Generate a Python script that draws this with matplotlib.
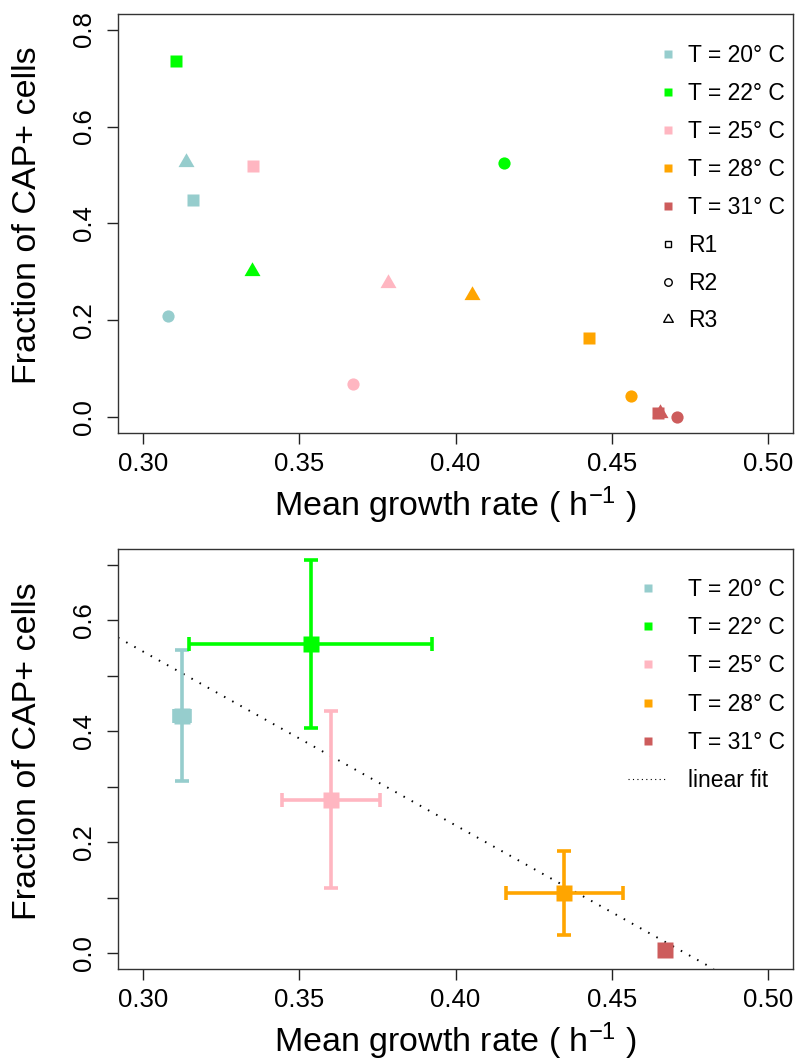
import numpy as np
import matplotlib
matplotlib.use("Agg")
import matplotlib.pyplot as plt
from matplotlib.lines import Line2D

plt.rcParams['font.family'] = ['Liberation Sans', 'DejaVu Sans']
plt.rcParams['mathtext.fontset'] = 'custom'
plt.rcParams['mathtext.rm'] = 'Liberation Sans'
plt.rcParams['mathtext.it'] = 'Liberation Sans:italic'

# Temperatures and their colours
temp_labels = ['T = 20° C', 'T = 22° C', 'T = 25° C', 'T = 28° C', 'T = 31° C']
temp_colors = ['#96CDCD', '#00FF00', '#FFB6C1', '#FFA500', '#CD5C5C']

# Replicate measurements (growth rate in 1/h, fraction of CAP+ cells)
r1_rate = [0.3159, 0.3105, 0.3351, 0.4428, 0.4649]
r1_frac = [0.449, 0.735, 0.519, 0.163, 0.009]
r2_rate = [0.3081, 0.4156, 0.3671, 0.4561, 0.4708]
r2_frac = [0.210, 0.524, 0.070, 0.044, 0.001]
r3_rate = [0.3137, 0.3349, 0.3785, 0.4052, 0.4655]
r3_frac = [0.526, 0.302, 0.278, 0.252, 0.009]

# Means across replicates with error bars
mean_rate = [0.3125, 0.3536, 0.3602, 0.4348, 0.4671]
rate_err = [0.0025, 0.0390, 0.0158, 0.0188, 0.0015]
mean_frac = [0.428, 0.557, 0.277, 0.109, 0.0067]
frac_err = [0.118, 0.152, 0.159, 0.075, 0.004]

x_ticks = [0.30, 0.35, 0.40, 0.45, 0.50]
top_y_ticks = [0.0, 0.2, 0.4, 0.6, 0.8]
bottom_y_ticks = [0.0, 0.1, 0.2, 0.3, 0.4, 0.5, 0.6, 0.7]

W, H = 797, 1061
fig = plt.figure(figsize=(W / 100, H / 100), dpi=100)

def px_axes(left, top, right, bottom):
    return fig.add_axes([left / W, 1 - bottom / H, (right - left) / W, (bottom - top) / H])

ax1 = px_axes(118, 14, 793, 433)
ax2 = px_axes(118, 549, 793, 969)

# equilateral triangle marker centred on its centroid
tri = [(0, 1), (-0.866, -0.5), (0.866, -0.5), (0, 1)]

TICK_FS = 18.5
LAB_FS = 24.5
LEG_FS = 16.5


def style_axes(ax, ylim, yticks, ylabels):
    ax.set_xlim(0.3 - 0.008, 0.5 + 0.008)
    ax.set_ylim(*ylim)
    ax.set_xticks(x_ticks)
    ax.set_xticklabels([f'{v:.2f}' for v in x_ticks], fontsize=TICK_FS)
    ax.set_yticks(yticks)
    ax.set_yticklabels(ylabels, fontsize=TICK_FS, rotation=90, va='center')
    ax.tick_params(direction='out', length=8, width=1, colors='#222222',
                   labelcolor='black')
    ax.tick_params(axis='x', pad=6)
    ax.tick_params(axis='y', pad=8)
    for s in ax.spines.values():
        s.set_color('#333333')
        s.set_linewidth(1.0)


# ---- top panel: individual replicates ----
for i, c in enumerate(temp_colors):
    ax1.plot(r1_rate[i], r1_frac[i], marker='s', ms=8.6, color=c, ls='none', mec='none')
    ax1.plot(r2_rate[i], r2_frac[i], marker='o', ms=8.8, color=c, ls='none', mec='none')
    ax1.plot(r3_rate[i], r3_frac[i], marker=tri, ms=13.3, color=c, ls='none', mec='none')

style_axes(ax1, (-0.032, 0.832), top_y_ticks, [f'{v:.1f}' for v in top_y_ticks])

handles1 = [Line2D([], [], marker='s', ls='none', color=c, mec='none', ms=5.8)
            for c in temp_colors]
handles1 += [
    Line2D([], [], marker='s', ls='none', mfc='none', mec='black', mew=1.0, ms=5.0),
    Line2D([], [], marker='o', ls='none', mfc='none', mec='black', mew=1.0, ms=5.4),
    Line2D([], [], marker=tri, ls='none', mfc='none', mec='black', mew=1.0, ms=8.0),
]
labels1 = temp_labels + ['R1', 'R2', 'R3']
ax1.legend(handles1, labels1, loc='upper left', bbox_to_anchor=(0.7978, 0.928),
           frameon=False, fontsize=LEG_FS, handlelength=1.0, handletextpad=0.37,
           labelspacing=0.65, borderpad=0, borderaxespad=0)

# ---- bottom panel: means with error bars and linear fit ----
for i, c in enumerate(temp_colors):
    ax2.errorbar(mean_rate[i], mean_frac[i], xerr=rate_err[i], yerr=frac_err[i],
                 fmt='s', ms=11.5, color=c, mec='none', elinewidth=2.6,
                 capsize=4.7, capthick=2.6, zorder=3)

slope, intercept = np.polyfit(mean_rate, mean_frac, 1)
ax2.axline((0.0, intercept), slope=slope, color='black', lw=1.4,
           ls=(0, (0.8, 4.0)), zorder=2)

style_axes(ax2, (-0.028, 0.728), bottom_y_ticks,
           [f'{v:.1f}' if round(v * 10) % 2 == 0 else '' for v in bottom_y_ticks])

handles2 = [Line2D([], [], marker='s', ls='none', color=c, mec='none', ms=5.8)
            for c in temp_colors]
handles2.append(Line2D([], [], color='black', lw=0.8, ls=(0, (1, 3))))
labels2 = temp_labels + ['linear fit']
ax2.legend(handles2, labels2, loc='upper left', bbox_to_anchor=(0.7556, 0.9305),
           frameon=False, fontsize=LEG_FS, handlelength=1.7, handletextpad=0.92,
           labelspacing=0.66, borderpad=0, borderaxespad=0)

# ---- axis titles ----
xlab = 'Mean growth rate ( h$\\mathregular{^{-1}}$ )'
ylab = 'Fraction of CAP+ cells'
for top, bottom in [(14, 433), (549, 969)]:
    fig.text(455.5 / W, 1 - (bottom + 72) / H, xlab, ha='center', va='center',
             fontsize=LAB_FS)
    fig.text(28 / W, 1 - ((top + bottom) / 2 - 8) / H, ylab, ha='center', va='center',
             rotation=90, fontsize=LAB_FS)

fig.savefig('out.png', dpi=100)
